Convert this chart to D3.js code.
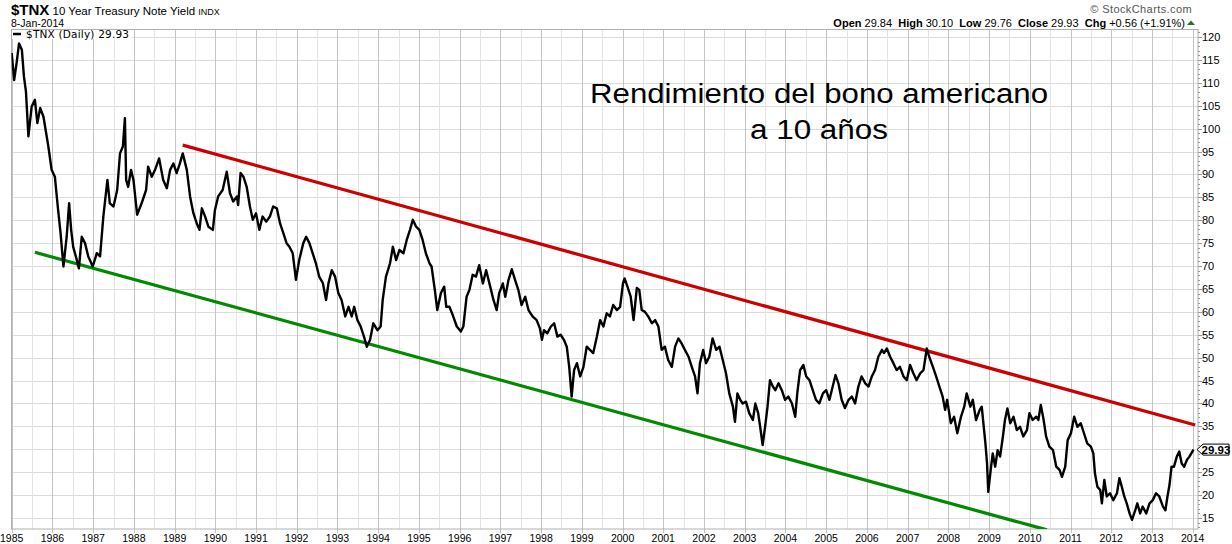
<!DOCTYPE html>
<html><head><meta charset="utf-8">
<script src="https://cdn.jsdelivr.net/npm/d3@7"></script>
<style>
html,body{margin:0;padding:0;background:#fff;}
svg{display:block;}
text{font-family:"Liberation Sans",Arial,sans-serif;}
</style></head>
<body><svg id="c" width="1232" height="544"></svg>
<script>
// ---- data (decimal year, yield x10) ----
const dates = [
1985.00,1985.06,1985.12,1985.18,1985.25,1985.30,1985.35,1985.41,1985.49,1985.57,1985.63,1985.70,1985.78,1985.90,1985.98,
1986.06,1986.14,1986.20,1986.27,1986.35,1986.41,1986.46,1986.51,1986.60,1986.65,1986.72,1986.80,1986.88,1986.99,
1987.09,1987.17,1987.25,1987.35,1987.41,1987.50,1987.59,1987.66,1987.73,1987.78,1987.81,1987.86,1987.93,1987.99,
1988.08,1988.19,1988.30,1988.35,1988.44,1988.52,1988.62,1988.72,1988.81,1988.89,1988.97,
1989.05,1989.13,1989.20,1989.30,1989.38,1989.46,1989.54,1989.61,1989.67,1989.75,1989.83,1989.94,1989.99,
1990.07,1990.18,1990.28,1990.36,1990.44,1990.53,1990.56,1990.62,1990.69,1990.77,1990.85,1990.92,
1991.00,1991.08,1991.16,1991.25,1991.34,1991.42,1991.51,1991.59,1991.67,1991.75,1991.82,1991.90,1991.98,
1992.06,1992.16,1992.23,1992.31,1992.39,1992.47,1992.55,1992.64,1992.72,1992.78,1992.86,1992.94,
1993.02,1993.10,1993.19,1993.27,1993.35,1993.41,1993.49,1993.57,1993.65,1993.72,1993.80,1993.88,1993.98,
1994.06,1994.11,1994.19,1994.29,1994.36,1994.44,1994.52,1994.62,1994.70,1994.78,1994.85,1994.93,
1995.01,1995.09,1995.17,1995.26,1995.31,1995.39,1995.45,1995.54,1995.62,1995.67,1995.75,1995.83,1995.93,
1996.03,1996.09,1996.17,1996.24,1996.32,1996.40,1996.48,1996.57,1996.65,1996.75,1996.83,1996.91,1996.97,
1997.06,1997.12,1997.20,1997.28,1997.36,1997.44,1997.52,1997.61,1997.69,1997.79,1997.89,1997.97,
1998.02,1998.07,1998.15,1998.24,1998.32,1998.40,1998.48,1998.56,1998.63,1998.69,1998.75,1998.81,1998.88,1998.96,
1999.04,1999.12,1999.20,1999.28,1999.37,1999.45,1999.53,1999.61,1999.69,1999.77,1999.86,1999.94,
2000.01,2000.05,2000.12,2000.20,2000.27,2000.35,2000.41,2000.47,2000.55,2000.63,2000.72,2000.80,2000.88,2000.96,
2001.04,2001.12,2001.21,2001.29,2001.37,2001.45,2001.53,2001.62,2001.70,2001.78,2001.84,2001.90,2001.98,
2002.05,2002.13,2002.21,2002.30,2002.38,2002.46,2002.54,2002.62,2002.71,2002.76,2002.82,2002.89,2002.95,
2003.03,2003.11,2003.20,2003.26,2003.33,2003.39,2003.44,2003.50,2003.56,2003.62,2003.69,2003.75,2003.83,2003.91,2003.99,
2004.07,2004.16,2004.24,2004.29,2004.36,2004.44,2004.51,2004.59,2004.67,2004.75,2004.83,2004.92,
2005.00,2005.08,2005.16,2005.23,2005.30,2005.38,2005.46,2005.55,2005.63,2005.71,2005.79,2005.87,2005.96,
2006.04,2006.12,2006.20,2006.28,2006.37,2006.42,2006.49,2006.57,2006.65,2006.73,2006.81,2006.90,2006.98,
2007.06,2007.14,2007.22,2007.31,2007.39,2007.47,2007.53,2007.62,2007.70,2007.78,2007.86,2007.92,2007.97,
2008.06,2008.14,2008.22,2008.31,2008.39,2008.45,2008.54,2008.60,2008.68,2008.77,2008.82,2008.86,2008.91,2008.95,2008.98,
2009.04,2009.09,2009.15,2009.21,2009.27,2009.34,2009.39,2009.45,2009.52,2009.60,2009.68,2009.76,2009.84,2009.93,2009.99,
2010.07,2010.16,2010.21,2010.27,2010.34,2010.40,2010.48,2010.57,2010.65,2010.73,2010.79,2010.87,2010.93,
2011.01,2011.09,2011.17,2011.25,2011.33,2011.41,2011.50,2011.56,2011.60,2011.66,2011.73,2011.77,2011.83,2011.89,2011.97,
2012.05,2012.14,2012.20,2012.26,2012.32,2012.38,2012.45,2012.51,2012.59,2012.64,2012.71,2012.77,2012.86,2012.94,
2013.02,2013.10,2013.18,2013.27,2013.33,2013.38,2013.43,2013.48,2013.54,2013.61,2013.67,2013.73,2013.79,2013.86,2013.92,
2014.02];
const yields = [
116.5,110.6,114.3,118.6,117.2,111.4,108.1,98.3,104.8,106.3,101.2,104.5,102.6,96.1,91.0,
89.5,82.2,77.2,69.9,76.4,83.7,77.9,74.2,71.3,69.5,76.4,75.0,72.1,69.9,
72.8,72.1,80.8,88.8,83.7,83.0,86.6,94.6,96.1,102.3,88.8,87.3,91.0,88.8,
81.2,83.7,86.6,91.7,89.5,91.0,93.5,88.8,87.0,91.0,92.4,
90.3,92.4,94.6,91.0,85.2,81.6,79.4,77.9,82.6,80.8,78.6,77.9,82.2,
85.2,86.6,90.6,85.9,84.1,85.2,83.3,90.3,89.5,87.3,83.0,80.1,
81.5,77.9,80.8,79.7,80.8,83.0,82.6,79.3,77.2,75.0,74.2,72.8,67.0,
71.3,75.0,76.4,75.0,72.8,70.6,67.7,66.3,62.6,66.3,69.1,67.7,
64.1,62.6,59.0,61.1,59.0,61.1,58.2,56.8,54.6,52.4,53.9,57.5,56.0,
56.8,62.6,67.7,70.6,74.2,71.3,73.5,72.8,75.7,77.9,80.1,78.6,
77.9,75.7,72.8,70.6,69.9,64.8,60.4,64.1,65.5,61.1,61.1,59.3,56.8,
55.7,56.8,63.3,64.8,68.1,67.7,70.2,66.2,69.1,65.5,62.6,60.4,64.1,
66.2,63.3,67.0,69.3,67.0,64.8,61.5,63.3,60.4,59.0,58.2,56.4,
53.9,56.0,55.3,56.8,57.5,54.6,55.0,53.9,52.4,48.0,41.5,47.3,48.8,45.9,
48.0,52.4,51.7,51.0,54.6,58.2,56.8,59.7,59.0,61.5,60.4,61.1,
66.2,67.3,65.5,63.3,58.2,65.2,64.8,60.4,60.0,59.0,57.5,58.2,56.8,51.7,
52.4,49.5,48.0,52.4,54.2,53.1,51.7,50.2,48.0,45.9,42.2,48.8,51.7,
48.8,50.2,54.2,51.7,52.4,49.5,46.6,42.2,39.3,36.0,42.2,40.8,40.0,
40.4,37.9,36.4,40.0,37.9,34.2,30.9,34.9,39.3,45.1,43.7,42.9,44.4,42.9,40.8,
41.5,40.0,37.1,42.2,47.3,48.4,45.9,45.1,42.9,40.8,40.0,42.2,
42.9,40.8,43.7,46.2,44.4,40.8,39.0,40.8,41.5,40.0,43.7,45.9,44.4,
43.7,45.9,47.3,50.2,51.7,51.0,52.0,50.2,48.8,47.3,48.0,45.9,45.1,
48.4,46.6,45.1,46.6,47.3,52.0,50.2,48.0,45.9,43.7,41.5,38.6,40.8,
35.7,37.1,33.5,37.1,39.3,42.2,39.3,40.8,36.4,38.6,39.3,35.7,31.3,26.9,20.7,
25.5,29.1,26.2,29.8,28.4,32.8,36.4,38.9,35.7,37.1,34.2,34.9,32.8,34.2,37.9,
36.4,37.1,36.4,39.7,36.4,32.8,30.6,29.8,26.2,25.5,24.0,26.2,32.0,
33.5,37.1,34.9,35.7,33.5,31.3,30.6,29.1,24.7,21.8,21.1,18.2,23.3,19.7,20.4,
18.9,20.4,23.7,21.8,19.7,18.2,16.0,14.6,16.7,18.2,16.0,17.5,16.0,18.2,
18.9,20.4,19.7,17.5,16.7,19.7,22.2,26.2,26.2,28.4,29.5,26.9,26.2,27.7,28.4,
29.93];

const resistanceLine = [[1989.20, 96.4],[2014.06, 35.3]];
const supportLine    = [[1985.57, 73.0],[2010.42, 12.4]];

const yearTicks = d3.range(1985, 2015);
const halfYearTicks = d3.range(1985.5, 2014, 1);
const yTicks = d3.range(15, 121, 5);
const yMinor = d3.range(13, 122, 1);

const headerQuotes = [["Open","29.84"],["High","30.10"],["Low","29.76"],["Close","29.93"],["Chg","+0.56 (+1.91%)"]];
const lastValue = "29.93";

// ---- layout ----
const svg = d3.select("#c");
const P = {l:11.5, r:1198, t:29.5, b:529};
const x = d3.scaleLinear().domain([1985, 2014]).range([11.7, 1192.7]);
const y = d3.scaleLinear().domain([15, 120]).range([518, 37]);

svg.append("defs").append("clipPath").attr("id","clip")
  .append("rect").attr("x",P.l).attr("y",P.t).attr("width",P.r-P.l).attr("height",P.b-P.t);

// grid
const g = svg.append("g");
g.selectAll(".hg").data(yTicks).join("line")
  .attr("x1",P.l).attr("x2",P.r).attr("y1",d=>Math.round(y(d))+0.5).attr("y2",d=>Math.round(y(d))+0.5)
  .attr("stroke","#dcdcdc").attr("stroke-width",1);
g.selectAll(".vh").data(halfYearTicks).join("line")
  .attr("x1",d=>Math.round(x(d))+0.5).attr("x2",d=>Math.round(x(d))+0.5).attr("y1",P.t).attr("y2",P.b)
  .attr("stroke","#e3e3e3").attr("stroke-width",1);
g.selectAll(".vy").data(yearTicks).join("line")
  .attr("x1",d=>Math.round(x(d))+0.5).attr("x2",d=>Math.round(x(d))+0.5).attr("y1",P.t).attr("y2",P.b+4)
  .attr("stroke","#c4c4c4").attr("stroke-width",1);

// frame
svg.append("rect").attr("x",P.l).attr("y",P.t).attr("width",P.r-P.l).attr("height",P.b-P.t)
  .attr("fill","none").attr("stroke","#b0b0b0").attr("stroke-width",1);

// right axis ticks
const lastY = yields[yields.length-1];
svg.selectAll(".ym").data(yMinor).join("line")
  .attr("x1",P.r).attr("x2",d=> (d%5===0)? P.r+4 : P.r+2)
  .attr("y1",d=>Math.round(y(d))+0.5).attr("y2",d=>Math.round(y(d))+0.5)
  .attr("stroke","#999").attr("stroke-width",1);
svg.selectAll(".yl").data(yTicks.filter(d=>Math.abs(d-lastY)>2.5)).join("text")
  .attr("x",P.r+4).attr("y",d=>y(d)+4)
  .attr("font-size","11px").attr("fill","#000").text(d=>d);

// bottom axis labels
svg.selectAll(".xl").data(yearTicks).join("text")
  .attr("x",d=>x(d)).attr("y",541.5).attr("text-anchor","middle")
  .attr("font-size","10.5px").attr("fill","#000").text(d=>d);

// trend lines
const line = d3.line().x(d=>x(d[0])).y(d=>y(d[1]));
const plot = svg.append("g").attr("clip-path","url(#clip)");
plot.append("path").datum(resistanceLine).attr("d",line)
  .attr("stroke","#cc0000").attr("stroke-width",3.2).attr("fill","none");
plot.append("path").datum(supportLine).attr("d",line)
  .attr("stroke","#008a00").attr("stroke-width",3.2).attr("fill","none");

// price line
const series = dates.map((d,i)=>[d, yields[i]]);
plot.append("path").datum(series).attr("d",line)
  .attr("stroke","#000").attr("stroke-width",2.4).attr("fill","none").attr("stroke-linejoin","round");

// legend
svg.append("rect").attr("x",12).attr("y",30).attr("width",120).attr("height",9).attr("fill","#fff");
svg.append("line").attr("x1",13).attr("x2",21).attr("y1",34).attr("y2",34).attr("stroke","#000").attr("stroke-width",2.5);
svg.append("text").attr("x",26).attr("y",38).attr("font-size","10.5px")
  .style("font-family","'DejaVu Sans',Verdana,sans-serif").attr("letter-spacing","0.2")
  .text("$TNX (Daily) " + lastValue);

// title annotation
svg.append("text").attr("x",819).attr("y",102.5).attr("text-anchor","middle")
  .attr("font-size","27px").attr("fill","#000")
  .attr("textLength",458).attr("lengthAdjust","spacingAndGlyphs")
  .text("Rendimiento del bono americano");
svg.append("text").attr("x",819).attr("y",139).attr("text-anchor","middle")
  .attr("font-size","27px").attr("fill","#000")
  .attr("textLength",138).attr("lengthAdjust","spacingAndGlyphs")
  .text("a 10 años");

// header left
const h = svg.append("text").attr("x",11).attr("y",15);
h.append("tspan").attr("font-size","15px").attr("font-weight","bold").text("$TNX");
h.append("tspan").attr("font-size","11.5px").text(" 10 Year Treasury Note Yield ");
h.append("tspan").attr("font-size","9px").text("INDX");
svg.append("text").attr("x",11).attr("y",27).attr("font-size","10.5px").text("8-Jan-2014");

// header right
svg.append("text").attr("x",1192).attr("y",13).attr("text-anchor","end").attr("font-size","11px").attr("fill","#555")
  .attr("letter-spacing","0.4").text("\u00A9 StockCharts.com");
const hr = svg.append("text").attr("x",1185).attr("y",26.5).attr("text-anchor","end").attr("font-size","11px");
headerQuotes.forEach((q,i)=>{
  hr.append("tspan").attr("font-weight","bold").text((i? "  ":"") + q[0]);
  hr.append("tspan").text(" " + q[1]);
});
hr.style("white-space","pre");
svg.append("path").attr("d","M1187,25 L1195,25 L1191,20.5 Z").attr("fill","#2e6b2e");

// last value tag
const ly = y(lastY);
svg.append("path")
  .attr("d",`M${P.r-1},${ly} L${P.r+5},${ly-5.5} L1229,${ly-5.5} L1229,${ly+5.5} L${P.r+5},${ly+5.5} Z`)
  .attr("fill","#fff").attr("stroke","#000").attr("stroke-width",1);
svg.append("text").attr("x",1201.5).attr("y",ly+4.2).attr("font-size","11.5px").attr("font-weight","bold")
  .text(lastValue);
</script></body></html>
